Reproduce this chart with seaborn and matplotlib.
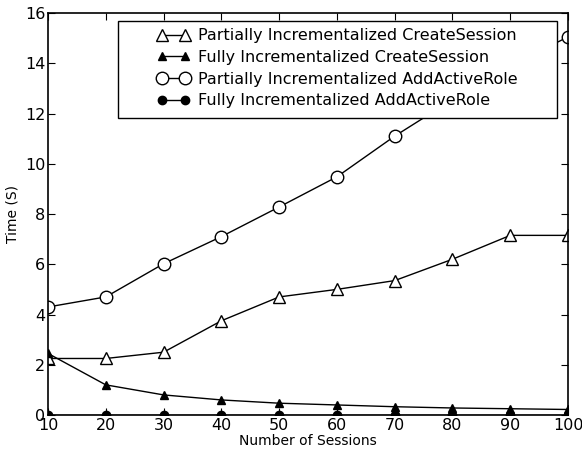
import matplotlib
matplotlib.use("Agg")
import matplotlib.pyplot as plt
import matplotlib.patches as mpatches
import seaborn as sns
import pandas as pd

# Sessions vs time for the four variants
sessions = [10, 20, 30, 40, 50, 60, 70, 80, 90, 100]
partial_create = [2.25, 2.25, 2.5, 3.75, 4.7, 5.0, 5.35, 6.2, 7.15, 7.15]
full_create = [2.45, 1.2, 0.8, 0.6, 0.47, 0.4, 0.33, 0.28, 0.25, 0.22]
partial_add = [4.3, 4.7, 6.02, 7.1, 8.28, 9.48, 11.1, 12.55, 13.9, 15.05]
full_add = [0.0, 0.0, 0.0, 0.0, 0.0, 0.0, 0.0, 0.0, 0.0, 0.0]

labels = ["Partially Incrementalized CreateSession",
          "Fully Incrementalized CreateSession",
          "Partially Incrementalized AddActiveRole",
          "Fully Incrementalized AddActiveRole"]

sns.set_style("ticks")
plt.rcParams["font.family"] = ["DejaVu Sans"]
plt.rcParams["xtick.direction"] = "in"
plt.rcParams["ytick.direction"] = "in"
plt.rcParams["text.color"] = "black"
plt.rcParams["xtick.color"] = "black"
plt.rcParams["ytick.color"] = "black"
plt.rcParams["axes.labelcolor"] = "black"

fig = plt.figure(figsize=(5.82, 4.49), dpi=100)
ax = fig.add_axes([0.0825, 0.0757, 0.8935, 0.8953])

series = [partial_create, full_create, partial_add, full_add]
styles = [("^", "white", 9), ("^", "black", 6), ("o", "white", 9), ("o", "black", 6)]
for vals, lab, (mk, fc, ms) in zip(series, labels, styles):
    df = pd.DataFrame({"sessions": sessions, "time": vals})
    sns.lineplot(data=df, x="sessions", y="time", ax=ax, color="black", lw=1,
                 marker=mk, markersize=ms, markerfacecolor=fc,
                 markeredgecolor="black", markeredgewidth=1, label=lab)

ax.set_xlim(10, 100)
ax.set_ylim(0, 16)
ax.set_xticks(range(10, 101, 10))
ax.set_yticks(range(0, 17, 2))
ax.tick_params(top=True, right=True, labelsize=11.5, length=5, width=0.8, pad=2)
for s in ax.spines.values():
    s.set_linewidth(1.2)
    s.set_color("black")
ax.set_xlabel("Number of Sessions", fontsize=10, labelpad=1)
ax.set_ylabel("Time (S)", fontsize=10, labelpad=4)

# wide legend box with the entries centred inside it (old matplotlib look)
box = mpatches.Rectangle((0.1346, 0.739), 0.8444, 0.241, transform=ax.transAxes,
                         facecolor="white", edgecolor="black", lw=1, zorder=4.5)
ax.add_patch(box)
leg = ax.legend(loc="upper center", bbox_to_anchor=(0.557, 0.98), borderaxespad=0,
                borderpad=0.45, fontsize=11.5, numpoints=2, handlelength=2.0,
                handletextpad=0.55, labelspacing=0.42, frameon=False)

fig.savefig("out.png", dpi=100)
